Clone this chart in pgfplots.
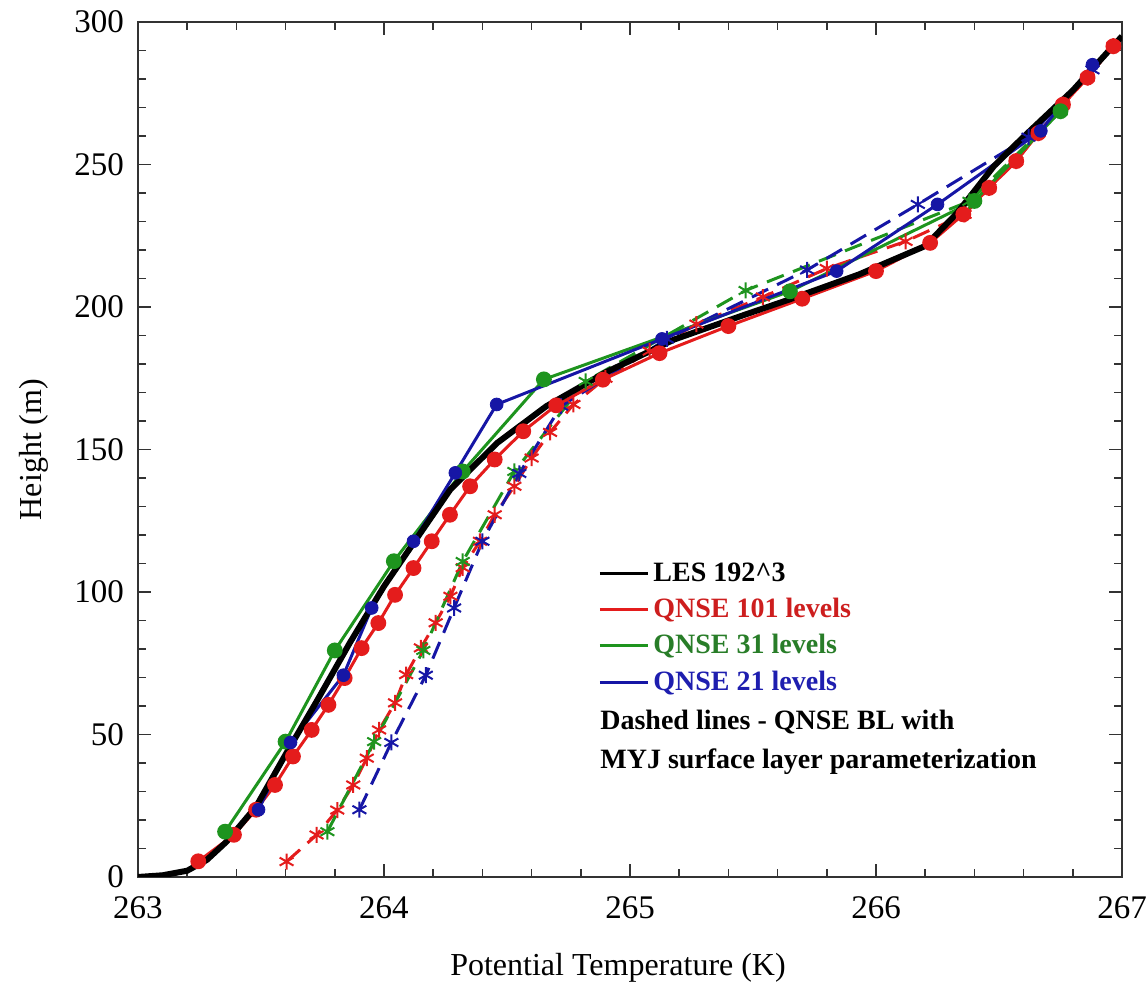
\documentclass[border=0pt]{standalone}
\usepackage{fontspec}
\setmainfont{Liberation Serif}
\usepackage{pgfplots}
\pgfplotsset{compat=1.18}
\definecolor{cred}{RGB}{228,28,28}
\definecolor{cgreen}{RGB}{30,148,30}
\definecolor{cblue}{RGB}{22,22,165}
\definecolor{tred}{RGB}{205,30,30}
\definecolor{tgreen}{RGB}{40,125,40}
\definecolor{tblue}{RGB}{30,30,175}
\begin{document}
\begin{tikzpicture}
\begin{axis}[
  at={(0,0)}, anchor=south west,
  scale only axis, width=492pt, height=427.5pt,
  xmin=263, xmax=267, ymin=0, ymax=300,
  xtick={263,264,265,266,267}, ytick={0,50,100,150,200,250,300},
  minor x tick num=4, minor y tick num=4,
  tick align=inside, major tick length=6.5pt, minor tick length=4pt,
  tick style={black!80, line width=0.8pt},
  axis line style={black!80, line width=0.9pt},
  /pgf/number format/assume math mode=true,
  /pgf/number format/1000 sep={},
  ticklabel style={font=\fontsize{16.5}{19}\selectfont},
  xticklabel style={yshift=-6.5pt},
  yticklabel style={xshift=-3.5pt},
  xlabel={Potential Temperature (K)}, ylabel={Height (m)},
  label style={font=\fontsize{16}{19}\selectfont},
  xlabel style={yshift=-10pt, xshift=-6pt},
  ylabel style={yshift=6pt},
  legend style={at={(rel axis cs:0.4675,0.373)}, anchor=north west, draw=none, fill=none,
    font=\bfseries\fontsize{14}{16}\selectfont, row sep=3pt, inner sep=0pt, cells={anchor=west}},
  legend cell align=left,
  legend image code/.code={\draw[#1] (0pt,0pt) -- (24pt,0pt);},
]
% dashed series
\addplot[cred, line width=1.5pt, dash pattern=on 9pt off 5pt, mark=asterisk, mark size=4pt, mark options={solid, line width=1pt}, forget plot] coordinates {
(263.604,5.4) (263.726,14.75) (263.81,23.5) (263.875,32.3) (263.93,41.7) (263.98,51.6) (264.045,61.1) (264.09,71) (264.15,80.4) (264.21,89.2) (264.27,98.5) (264.32,108.5) (264.39,117.8) (264.45,127.1) (264.53,137.1) (264.6,147) (264.675,156) (264.77,165.8) (264.9,175) (265.08,184.5) (265.27,194) (265.54,203.5) (265.8,213.5) (266.12,223) (266.36,232.5) (266.46,241.8) (266.57,251.2) (266.66,261) (266.76,271) (266.86,280.5) (266.965,291.5)};
\addplot[cgreen, line width=1.5pt, dash pattern=on 9pt off 5pt, mark=asterisk, mark size=4pt, mark options={solid, line width=1pt}, forget plot] coordinates {
(263.77,15.9) (263.96,47.5) (264.16,79.5) (264.32,110.7) (264.53,142.3) (264.82,173.9) (265.47,205.8) (266.38,237.1) (266.75,268.7)};
\addplot[cblue, line width=1.5pt, dash pattern=on 9pt off 5pt, mark=asterisk, mark size=4pt, mark options={solid, line width=1pt}, forget plot] coordinates {
(263.90,23.6) (264.03,47.2) (264.17,70.8) (264.285,94.4) (264.40,117.8) (264.55,141.6) (264.72,165.2) (265.15,188.8) (265.72,213) (266.17,236) (266.62,259.6) (266.88,283.2)};
% solid series
\addplot[cred, line width=1.5pt, mark=*, mark size=3.2pt, forget plot] coordinates {
(263.245,5.5) (263.39,14.8) (263.48,23.6) (263.557,32.3) (263.63,42.3) (263.706,51.6) (263.774,60.4) (263.84,69.8) (263.909,80.3) (263.977,89.1) (264.045,99) (264.12,108.4) (264.194,117.8) (264.268,127.1) (264.35,137.1) (264.45,146.5) (264.566,156.4) (264.70,165.5) (264.89,174.5) (265.12,183.8) (265.40,193.3) (265.70,202.9) (266.0,212.6) (266.22,222.5) (266.355,232.5) (266.46,241.8) (266.57,251.2) (266.66,261) (266.76,271) (266.86,280.5) (266.965,291.5)};
\addplot[cgreen, line width=1.5pt, mark=*, mark size=3.2pt, forget plot] coordinates {
(263.354,15.9) (263.6,47.5) (263.80,79.5) (264.04,110.8) (264.32,142.3) (264.65,174.6) (265.65,205.5) (266.40,237.2) (266.75,268.7)};
\addplot[cblue, line width=1.5pt, forget plot] coordinates {
(263.49,23.6) (263.62,47.2) (263.835,70.8) (263.95,94.4) (264.12,117.8) (264.29,141.8) (264.458,165.8) (265.13,188.8) (265.84,212.6) (266.25,236) (266.67,261.8) (266.88,285)};
% LES
\addplot[black, line width=3pt, forget plot] coordinates {
(263.0,0) (263.1,0.6) (263.2,2.2) (263.28,6) (263.36,12.4) (263.48,24.7) (263.6,43) (263.73,62.2) (263.86,82) (264.0,102) (264.13,118.4) (264.27,136) (264.46,152.3) (264.66,165.2) (264.9,177) (265.18,188.6) (265.45,196.8) (265.65,202.7) (265.93,211.4) (266.2,221.4) (266.33,233) (266.48,249.5) (266.59,258.9) (266.8,276) (267.0,295)};
\addplot[cblue, only marks, mark=*, mark size=3.2pt, forget plot] coordinates {
(263.49,23.6) (263.62,47.2) (263.835,70.8) (263.95,94.4) (264.12,117.8) (264.29,141.8) (264.458,165.8) (265.13,188.8) (265.84,212.6) (266.25,236) (266.67,261.8) (266.88,285)};
% legend
\addlegendimage{black, line width=1.5pt}
\addlegendentry{LES 192\textasciicircum 3}
\addlegendimage{cred, line width=1.5pt}
\addlegendentry{\textcolor{tred}{QNSE 101 levels}}
\addlegendimage{cgreen, line width=1.5pt}
\addlegendentry{\textcolor{tgreen}{QNSE 31 levels}}
\addlegendimage{cblue, line width=1.5pt}
\addlegendentry{\textcolor{tblue}{QNSE 21 levels}}
\node[anchor=base west, inner sep=0pt, font=\bfseries\fontsize{14}{16}\selectfont] at (rel axis cs:0.4695,0.172) {Dashed lines - QNSE BL with};
\node[anchor=base west, inner sep=0pt, font=\bfseries\fontsize{14}{16}\selectfont] at (rel axis cs:0.4695,0.127) {MYJ surface layer parameterization};
\end{axis}
\pgfresetboundingbox
\useasboundingbox (-69pt,-53.5pt) rectangle (504.5pt,438.5pt);
\end{tikzpicture}
\end{document}
